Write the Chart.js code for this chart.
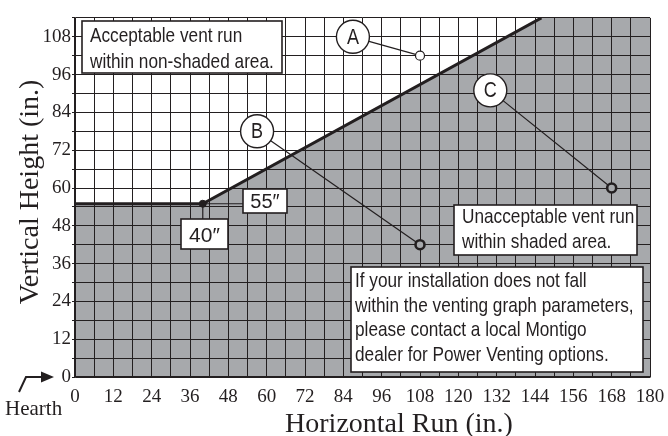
<!DOCTYPE html>
<html>
<head>
<meta charset="utf-8">
<script src="https://cdn.jsdelivr.net/npm/chart.js@4/dist/chart.umd.min.js"></script>
<style>
  html, body { margin: 0; padding: 0; background: #fff; }
  #wrap { width: 668px; height: 436px; }
</style>
</head>
<body>
<div id="wrap"><canvas id="ventChart" width="668" height="436"></canvas></div>
<script>
// vent run limit: everything under this boundary is shaded (not allowed)
const boundaryRun = [0, 40, 146];
const boundaryHeight = [55, 55, 114];
// the shading carries on along the top edge out to the end of the run axis
const shadeRun = [0, 40, 146, 180];
const shadeHeight = [55, 55, 114, 114];

// corner of the boundary, called out with its run and height
const bendRun = 40;
const bendHeight = 55;

// example installations and where their letter tags sit
const exampleNames = ['A', 'B', 'C'];
const exampleRun = [108, 108, 168];
const exampleHeight = [102, 42, 60];
const tagRun = [87, 57, 130];
const tagHeight = [108, 78, 91];

// labelled ticks (grid is every 6 in.)
const runLabels = [0, 12, 24, 36, 48, 60, 72, 84, 96, 108, 120, 132, 144, 156, 168, 180];
const heightLabels = [0, 12, 24, 36, 48, 60, 72, 84, 96, 108];

const acceptableNote = ['Acceptable vent run', 'within non-shaded area.'];
const unacceptableNote = ['Unacceptable vent run', 'within shaded area.'];
const contactNote = [
  'If your installation does not fall',
  'within the venting graph parameters,',
  'please contact a local Montigo',
  'dealer for Power Venting options.'
];

const ink = '#231f20';
const shade = '#a7a9ac';
const serif = "'Liberation Serif', 'Times New Roman', serif";
const sans = "'Liberation Sans', Arial, sans-serif";
const narrow = 0.82; // squeeze for the condensed note lettering

const pts = (xs, ys) => xs.map((x, i) => ({ x, y: ys[i] }));

const noteBoxes = [
  { lines: acceptableNote, x: 82, y: 21, w: 200, h: 52, pad: 8, top: 21, lh: 25.5 },
  { lines: unacceptableNote, x: 454, y: 205, w: 183, h: 50, pad: 8, top: 18, lh: 25 },
  { lines: contactNote, x: 351, y: 267, w: 292, h: 105, pad: 4, top: 20, lh: 24.5 }
];

// datasets are painted last-to-first, so the boundary line goes first to land on top
const datasets = [
  {
    type: 'line',
    data: pts(boundaryRun, boundaryHeight),
    borderColor: ink,
    borderWidth: 3,
    fill: false,
    pointRadius: 0
  },
  {
    // shaded (not allowed) region
    type: 'line',
    data: pts(shadeRun, shadeHeight),
    borderWidth: 0,
    borderColor: 'rgba(0,0,0,0)',
    backgroundColor: shade,
    fill: 'start',
    pointRadius: 0
  }
];

// leader lines from tags to example points
exampleNames.forEach((n, i) => {
  datasets.push({
    type: 'line', overlay: true,
    data: [{ x: tagRun[i], y: tagHeight[i] }, { x: exampleRun[i], y: exampleHeight[i] }],
    borderColor: ink, borderWidth: 1.2, pointRadius: 0, fill: false
  });
});

datasets.push({
  type: 'scatter', overlay: true,
  data: pts(exampleRun, exampleHeight),
  pointRadius: 4.5,
  pointBorderWidth: [1.2, 2.6, 2.6],
  pointBorderColor: ink,
  pointBackgroundColor: ['#fff', shade, shade]
});

datasets.push({
  type: 'scatter', overlay: true,
  data: [{ x: bendRun, y: bendHeight }],
  pointRadius: 3.5, pointBorderWidth: 1, pointBorderColor: ink, pointBackgroundColor: ink
});

datasets.push({
  type: 'scatter', overlay: true,
  data: pts(tagRun, tagHeight),
  pointRadius: 16.5, pointBorderWidth: 1.4, pointBorderColor: ink, pointBackgroundColor: '#fff'
});

function drawBox(ctx, x, y, w, h) {
  ctx.fillStyle = '#fff';
  ctx.fillRect(x, y, w, h);
  ctx.strokeStyle = ink;
  ctx.lineWidth = 1.6;
  ctx.strokeRect(x, y, w, h);
}

function narrowText(ctx, text, x, y) {
  ctx.save();
  ctx.translate(x, y);
  ctx.scale(narrow, 1);
  ctx.fillText(text, 0, 0);
  ctx.restore();
}

const overlay = {
  id: 'overlay',
  beforeDatasetDraw(chart, args) {
    if (chart.data.datasets[args.index].overlay) return false;
  },
  afterDraw(chart) {
    const ctx = chart.ctx;
    const xs = chart.scales.x, ys = chart.scales.y;
    const bx = xs.getPixelForValue(bendRun), by = ys.getPixelForValue(bendHeight);

    ctx.save();
    // leaders to the 40" / 55" call-outs
    ctx.strokeStyle = ink;
    ctx.lineWidth = 1.2;
    ctx.beginPath();
    ctx.moveTo(bx, by); ctx.lineTo(243, by);
    ctx.moveTo(bx, by); ctx.lineTo(bx, 219);
    ctx.stroke();
    ctx.restore();

    chart.data.datasets.forEach((ds, i) => {
      if (ds.overlay) chart.getDatasetMeta(i).controller.draw();
    });

    ctx.save();
    ctx.fillStyle = ink;
    ctx.textAlign = 'center';
    ctx.textBaseline = 'middle';
    ctx.font = `22px ${sans}`;
    exampleNames.forEach((n, i) => {
      narrowText(ctx, n, xs.getPixelForValue(tagRun[i]), ys.getPixelForValue(tagHeight[i]) + 1);
    });

    // corner call-outs
    drawBox(ctx, 243, 189, 44, 24);
    drawBox(ctx, 181, 219, 47, 30);
    ctx.fillStyle = ink;
    ctx.textAlign = 'center';
    ctx.textBaseline = 'alphabetic';
    ctx.font = `20px ${sans}`;
    ctx.fillText(`${bendHeight}\u2033`, 265, 208);
    ctx.font = `21px ${sans}`;
    ctx.fillText(`${bendRun}\u2033`, 204.5, 242);

    // notes
    ctx.textAlign = 'left';
    ctx.font = `21px ${sans}`;
    noteBoxes.forEach(b => {
      drawBox(ctx, b.x, b.y, b.w, b.h);
      ctx.fillStyle = ink;
      b.lines.forEach((t, k) => narrowText(ctx, t, b.x + b.pad, b.y + b.top + k * b.lh));
    });

    // axis titles
    ctx.font = `28px ${serif}`;
    ctx.textAlign = 'center';
    ctx.fillText('Horizontal Run (in.)', 399, 432);
    ctx.save();
    ctx.translate(38, 192);
    ctx.rotate(-Math.PI / 2);
    ctx.fillText('Vertical Height (in.)', 0, 0);
    ctx.restore();

    // hearth marker
    ctx.textAlign = 'left';
    ctx.font = `21px ${serif}`;
    ctx.fillText('Hearth', 5, 415);
    ctx.strokeStyle = ink;
    ctx.lineWidth = 2;
    ctx.beginPath();
    ctx.moveTo(19, 392); ctx.lineTo(26, 377); ctx.lineTo(44, 377);
    ctx.stroke();
    ctx.beginPath();
    ctx.moveTo(54, 377); ctx.lineTo(41, 371.5); ctx.lineTo(41, 382.5); ctx.closePath();
    ctx.fill();
    ctx.restore();
  }
};

new Chart(document.getElementById('ventChart'), {
  data: { datasets },
  options: {
    responsive: false,
    animation: false,
    events: [],
    layout: { padding: { top: 13, right: 18, left: 0, bottom: 0 } },
    plugins: { legend: { display: false }, tooltip: { enabled: false } },
    scales: {
      x: {
        type: 'linear', min: 0, max: 180,
        afterFit: s => { s.height = 59; s.paddingLeft = 0; s.paddingRight = 0; },
        grid: { color: ink, lineWidth: 1, drawTicks: false, z: 1 },
        border: { color: ink, width: 1.5, z: 1 },
        ticks: {
          stepSize: 6, autoSkip: false, maxRotation: 0, padding: 9, color: ink,
          font: { family: serif, size: 19 },
          callback: v => runLabels.includes(v) ? String(v) : ''
        }
      },
      y: {
        type: 'linear', min: 0, max: 114,
        afterFit: s => { s.width = 75; s.paddingTop = 0; s.paddingBottom = 0; },
        grid: { color: ink, lineWidth: 1, tickLength: 3, z: 1 },
        border: { color: ink, width: 1.5, z: 1 },
        ticks: {
          stepSize: 6, autoSkip: false, padding: 1, color: ink,
          font: { family: serif, size: 19 },
          callback: v => heightLabels.includes(v) ? String(v) : ''
        }
      }
    }
  },
  plugins: [overlay]
});
</script>
</body>
</html>
